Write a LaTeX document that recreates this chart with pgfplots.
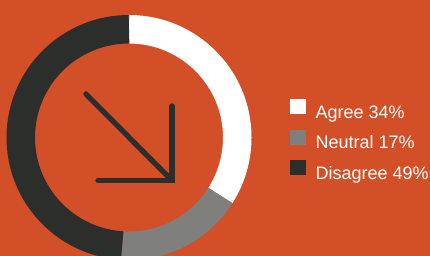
\documentclass[border=0pt]{standalone}
\usepackage{pgfplots}
\pgfplotsset{compat=1.18}
\usepackage{pgfplotstable}
\usepackage{fontspec}
\setmainfont{Liberation Sans}
\definecolor{bg}{HTML}{D24F28}
\definecolor{agree}{HTML}{FFFFFF}
\definecolor{neutral}{HTML}{7F7F7D}
\definecolor{disagree}{HTML}{2C2E2C}
\pgfplotstableread{
label value
Agree 34
Neutral 17
Disagree 49
}\donutdata
\pgfplotstablegetelem{0}{value}\of\donutdata\edef\vA{\pgfplotsretval}
\pgfplotstablegetelem{1}{value}\of\donutdata\edef\vB{\pgfplotsretval}
\pgfplotstablegetelem{2}{value}\of\donutdata\edef\vC{\pgfplotsretval}
\begin{document}
\begin{tikzpicture}
\begin{axis}[
  x=1pt, y=1pt,
  xmin=0, xmax=430, ymin=0, ymax=255,
  hide axis,
  clip=true,
  legend style={at={(axis cs:290,156)}, anchor=north west, draw=none, fill=none,
    font=\fontsize{18}{18}\selectfont, text=white, row sep=7.2pt, inner sep=0pt,
    nodes={inner sep=0pt, text depth=4pt, text height=14pt},
    /tikz/every odd column/.append style={column sep=10pt}},
  legend cell align=left,
  legend image code/.code={\fill[#1, draw=none] (0pt,-1pt) rectangle (15.5pt,14.2pt);},
]
\fill[bg] (axis cs:-10,-10) rectangle (axis cs:440,265);
\coordinate (C) at (axis cs:129,117.5);
\pgfmathsetmacro{\aA}{90-3.6*\vA}
\pgfmathsetmacro{\aB}{\aA-3.6*\vB}
\pgfmathsetmacro{\aC}{\aB-3.6*\vC}
\draw[agree, line width=28.5pt] ([shift={(90:108.25pt)}]C) arc[start angle=90, end angle=\aA, radius=108.25pt];
\draw[neutral, line width=28.5pt] ([shift={(\aA:108.25pt)}]C) arc[start angle=\aA, end angle=\aB, radius=108.25pt];
\draw[disagree, line width=28.5pt] ([shift={(\aB:108.25pt)}]C) arc[start angle=\aB, end angle=\aC, radius=108.25pt];
\addplot[disagree, line width=5.3pt, line cap=round, mark=none, forget plot] coordinates {(86,161) (171.5,75)};
\addplot[disagree, line width=5.3pt, line cap=round, line join=miter, mark=none, forget plot] coordinates {(172,149) (172,74.5) (98,74.5)};
\addlegendimage{fill=agree, draw=none}
\addlegendentry{Agree 34\%}
\addlegendimage{fill=neutral, draw=none}
\addlegendentry{Neutral 17\%}
\addlegendimage{fill=disagree, draw=none}
\addlegendentry{Disagree 49\%}
\end{axis}
\pgfresetboundingbox
\path (0,0) rectangle (430pt,255pt);
\end{tikzpicture}
\end{document}
